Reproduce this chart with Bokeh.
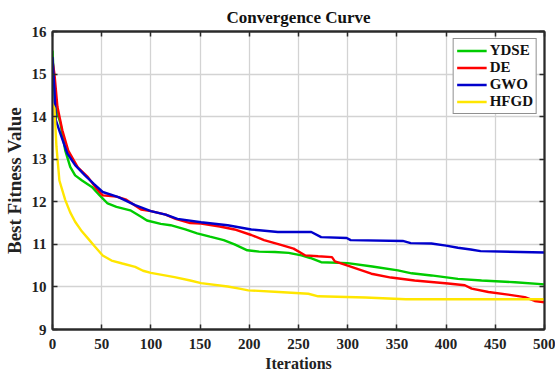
from bokeh.plotting import figure
from bokeh.models import LinearAxis, Range1d, FixedTicker, Legend, LegendItem
from bokeh.embed import file_html
from bokeh.resources import INLINE

series_names = ["YDSE", "DE", "GWO", "HFGD"]
series_colors = ["#00CC00", "#FF0000", "#0000CC", "#FFE600"]

ydse_iter = [0, 2, 3, 8, 13, 18, 23, 30, 40, 48, 56, 65, 79, 90, 96, 110, 120, 135, 147, 160, 174, 185, 198, 210, 226, 240, 253, 262, 273, 300, 325, 351, 365, 385, 412, 436, 470, 500]
ydse_val = [15.55, 14.6, 14.23, 13.85, 13.2, 12.82, 12.62, 12.5, 12.35, 12.15, 11.96, 11.88, 11.8, 11.65, 11.56, 11.48, 11.45, 11.35, 11.26, 11.18, 11.1, 11.0, 10.86, 10.83, 10.82, 10.8, 10.74, 10.68, 10.58, 10.56, 10.48, 10.39, 10.32, 10.27, 10.19, 10.15, 10.11, 10.06]

de_iter = [0, 2, 5, 10, 16, 26, 36, 45, 51, 65, 75, 90, 100, 115, 125, 140, 151, 170, 185, 202, 215, 233, 245, 257, 270, 284, 287, 300, 324, 344, 368, 402, 419, 426, 443, 463, 480, 490, 500]
de_val = [15.3, 15.0, 14.23, 13.68, 13.2, 12.8, 12.58, 12.3, 12.15, 12.12, 12.05, 11.82, 11.78, 11.7, 11.6, 11.5, 11.49, 11.42, 11.35, 11.22, 11.1, 10.98, 10.9, 10.74, 10.72, 10.7, 10.6, 10.5, 10.31, 10.22, 10.15, 10.08, 10.04, 9.96, 9.88, 9.82, 9.76, 9.67, 9.64]

gwo_iter = [0, 2, 3.4, 8, 15, 23, 33, 42, 51, 67, 84, 100, 115, 127, 151, 178, 202, 229, 263, 273, 299, 303, 356, 364, 385, 400, 412, 425, 435, 500]
gwo_val = [15.4, 14.62, 13.92, 13.6, 13.14, 12.86, 12.62, 12.42, 12.23, 12.11, 11.92, 11.78, 11.7, 11.6, 11.52, 11.45, 11.35, 11.29, 11.29, 11.17, 11.15, 11.1, 11.08, 11.03, 11.02, 10.97, 10.92, 10.88, 10.84, 10.81]

hfgd_iter = [0, 2, 4, 7, 13, 18, 23, 30, 36, 43, 51, 60, 71, 84, 92, 100, 124, 140, 151, 178, 190, 199, 230, 260, 270, 318, 359, 500]
hfgd_val = [14.3, 14.2, 13.3, 12.5, 12.04, 11.75, 11.53, 11.3, 11.14, 10.95, 10.74, 10.62, 10.55, 10.47, 10.38, 10.33, 10.23, 10.15, 10.09, 10.01, 9.96, 9.92, 9.88, 9.84, 9.78, 9.75, 9.71, 9.71]

x_ticks = [0, 50, 100, 150, 200, 250, 300, 350, 400, 450, 500]
y_ticks = [9, 10, 11, 12, 13, 14, 15, 16]

FONT = "Liberation Serif"
FRAME = "#2a2a2a"

p = figure(width=555, height=374, output_backend="svg", toolbar_location=None,
           x_range=Range1d(0, 500), y_range=Range1d(9, 16),
           min_border_left=51, min_border_right=11, min_border_top=31, min_border_bottom=45)

p.title.text = "Convergence Curve"
p.title.align = "center"
p.title.text_font = FONT
p.title.text_font_style = "bold"
p.title.text_font_size = "17px"
p.title.text_color = "#111111"
p.title.text_line_height = 0.8
p.title.offset = 0
p.title.standoff = 10

p.outline_line_color = FRAME
p.outline_line_width = 1.8
p.background_fill_color = "white"
p.border_fill_color = "white"

p.xgrid.ticker = FixedTicker(ticks=x_ticks)
p.ygrid.ticker = FixedTicker(ticks=y_ticks)
p.grid.grid_line_color = "#d3d3d3"
p.grid.grid_line_width = 1.3

for ax in [p.xaxis[0], p.yaxis[0]]:
    ax.major_label_text_font = FONT
    ax.major_label_text_font_style = "bold"
    ax.major_label_text_font_size = "15px"
    ax.major_label_text_color = "#222222"
    ax.axis_label_text_font = FONT
    ax.axis_label_text_font_style = "bold"
    ax.axis_label_text_color = "#222222"
    ax.major_tick_in = 5
    ax.major_tick_out = 0
    ax.minor_tick_line_color = None
    ax.axis_line_color = FRAME
    ax.axis_line_width = 1.8
    ax.major_tick_line_color = FRAME
    ax.major_tick_line_width = 1.5

p.xaxis[0].ticker = FixedTicker(ticks=x_ticks)
p.yaxis[0].ticker = FixedTicker(ticks=y_ticks)
p.xaxis[0].axis_label = "Iterations"
p.yaxis[0].axis_label = "Best Fitness Value"
p.xaxis[0].axis_label_text_font_size = "16px"
p.yaxis[0].axis_label_text_font_size = "19px"
p.xaxis[0].axis_label_standoff = 3
p.yaxis[0].axis_label_standoff = 4
p.xaxis[0].major_label_standoff = 9
p.yaxis[0].major_label_standoff = 6

for loc, ticks in (("above", x_ticks), ("right", y_ticks)):
    extra = LinearAxis(ticker=FixedTicker(ticks=ticks), major_label_text_font_size="1px",
                       major_label_text_color=None, major_label_standoff=0,
                       major_tick_in=5, major_tick_out=0, minor_tick_line_color=None,
                       axis_line_color=FRAME, axis_line_width=1.8,
                       major_tick_line_color=FRAME, major_tick_line_width=1.5)
    p.add_layout(extra, loc)

data = [(ydse_iter, ydse_val), (de_iter, de_val), (gwo_iter, gwo_val), (hfgd_iter, hfgd_val)]
renderers = []
for (xs, ys), color in zip(data, series_colors):
    r = p.line(xs, ys, line_color=color, line_width=2.4)
    renderers.append(r)

legend = Legend(items=[LegendItem(label=n, renderers=[r]) for n, r in zip(series_names, renderers)],
                location="top_right")
legend.label_text_font = FONT
legend.label_text_font_style = "bold"
legend.label_text_font_size = "15px"
legend.label_text_color = "#111111"
legend.label_height = 15
legend.glyph_height = 15
legend.glyph_width = 30
legend.label_standoff = 3
legend.spacing = 0
legend.padding = 3
legend.margin = 7
legend.border_line_color = "#222222"
legend.border_line_width = 1.8
legend.background_fill_alpha = 1.0
p.add_layout(legend)

open("out.html", "w").write(file_html(p, INLINE))
